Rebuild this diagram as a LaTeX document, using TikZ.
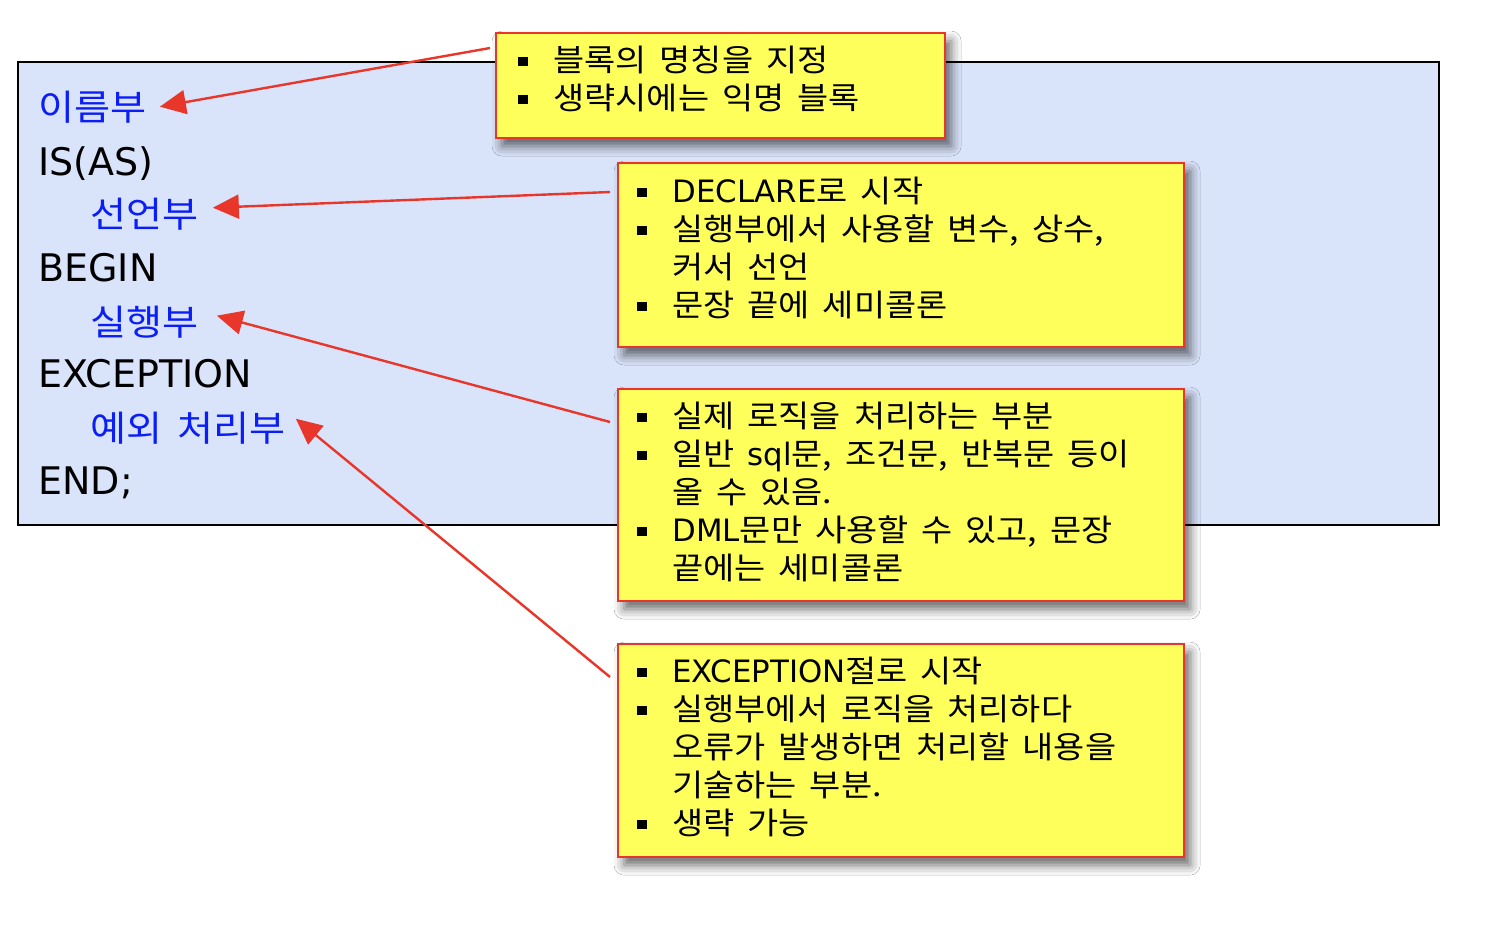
\documentclass[tikz,border=0pt]{standalone}
\usepackage{fontspec}
\setmainfont[FakeStretch=1.1,WordSpace=1.7]{Noto Sans CJK KR}
\newfontfamily\latf{DejaVu Sans}
\usetikzlibrary{arrows.meta,shadows.blur}
\definecolor{panelfill}{HTML}{D9E3FA}
\definecolor{noteyellow}{HTML}{FFFF5C}
\definecolor{notered}{HTML}{E8372A}
\definecolor{labblue}{HTML}{0A1EF5}
\newcommand\lat[1]{{\latf #1}}
\newcommand\bitem[1]{\par\noindent\hangindent=17.5pt\hangafter=1\makebox[17.5pt][l]{\raisebox{2.4pt}{\rule{4.6pt}{4.6pt}}}#1}
\newcommand\notetext[1]{\parbox[t]{270pt}{\fontsize{15.4}{19}\selectfont\parskip=0pt\relax #1}}
\begin{document}
\begin{tikzpicture}[x=0.5pt,y=-0.5pt,
  notebox/.style={draw=notered, line width=1.1pt, fill=noteyellow, anchor=north west, inner sep=0pt,
    blur shadow={shadow xshift=3pt, shadow yshift=-4pt, shadow blur radius=5pt, shadow opacity=60}},
  notetxt/.style={anchor=base west, inner sep=0pt, text=black},
  blk/.style={anchor=base west, inner sep=0pt, text=black, font=\latf\fontsize{19}{22}\selectfont},
  blu/.style={anchor=base west, inner sep=0pt, text=labblue, font=\fontsize{17.8}{22}\selectfont},
  arr/.style={draw=notered, line width=1.2pt, -{Triangle[length=13pt,width=12pt]}}]
\useasboundingbox (0,0) rectangle (1496,950);
\fill[white] (0,0) rectangle (1496,950);
% panel
\draw[black, line width=0.7pt, fill=panelfill] (18,62) rectangle (1439,525);
% code lines
\node[blu] (n1) at (38,120) {이름부};
\node[blk] (n2) at (38,175) {IS(AS)};
\node[blu] (n3) at (90,227) {선언부};
\node[blk] (n4) at (38,281) {BEGIN};
\node[blu] (n5) at (90,335) {실행부};
\node[blk] (n6) at (38,387) {EXCEPTION};
\node[blu] (n7) at (90,441) {예외 처리부};
\node[blk] (n8) at (38,494) {END;};
% note boxes
\node[notebox, minimum width=224.5pt, minimum height=52.5pt] (b1) at (495,32) {};
\node[notebox, minimum width=283pt, minimum height=92pt] (b2) at (617,162) {};
\node[notebox, minimum width=283pt, minimum height=106pt] (b3) at (617,388) {};
\node[notebox, minimum width=283pt, minimum height=106.5pt] (b4) at (617,643) {};
\node[notetxt] (t1) at (518,71) {\notetext{\bitem{블록의 명칭을 지정}\bitem{생략시에는 익명 블록}}};
\node[notetxt] (t2) at (637,202) {\notetext{\bitem{\lat{DECLARE}로 시작}\bitem{실행부에서 사용할 변수, 상수,\newline 커서 선언}\bitem{문장 끝에 세미콜론}}};
\node[notetxt] (t3) at (637,427) {\notetext{\bitem{실제 로직을 처리하는 부분}\bitem{일반 \lat{sql}문, 조건문, 반복문 등이\newline 올 수 있음.}\bitem{\lat{DML}문만 사용할 수 있고, 문장\newline 끝에는 세미콜론}}};
\node[notetxt] (t4) at (637,682) {\notetext{\bitem{\lat{EXCEPTION}절로 시작}\bitem{실행부에서 로직을 처리하다\newline 오류가 발생하면 처리할 내용을\newline 기술하는 부분.}\bitem{생략 가능}}};
% arrows
\coordinate (s1) at (490,48);
\coordinate (s2) at (610,192);
\coordinate (s3) at (610,422);
\coordinate (s4) at (610,677);
\draw[arr] (s1) -- ([shift={(13,0)}]n1.east);
\draw[arr] (s2) -- ([shift={(14,-6)}]n3.east);
\draw[arr] (s3) -- ([shift={(18,-6)}]n5.east);
\draw[arr] (s4) -- ([shift={(10,-9)}]n7.east);
\end{tikzpicture}
\end{document}
